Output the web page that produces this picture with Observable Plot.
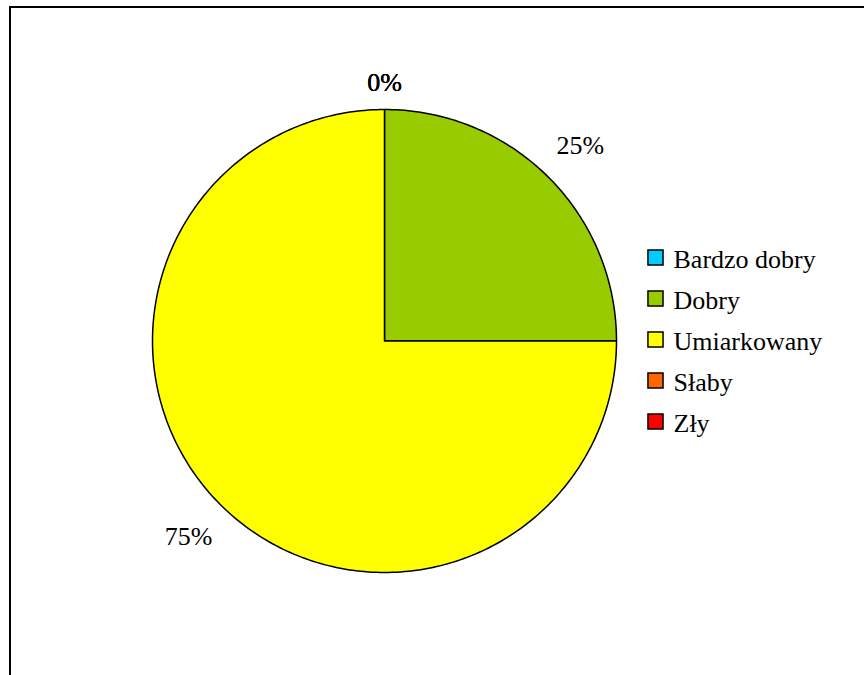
<!DOCTYPE html>
<html>
<head>
<meta charset="utf-8">
<script src="https://cdn.jsdelivr.net/npm/d3@7"></script>
<script src="https://cdn.jsdelivr.net/npm/@observablehq/plot@0.6"></script>
<style>
  html, body { margin: 0; padding: 0; background: #fff; }
  #wrap { position: relative; width: 864px; height: 675px; overflow: hidden; }
  #frame { position: absolute; left: 9px; top: 6px; width: 900px; height: 700px;
           border-left: 2px solid #000; border-top: 2px solid #000; box-sizing: border-box; pointer-events: none; }
  #chart { position: absolute; left: 0; top: 0; }
  #legend { position: absolute; left: 646px; top: 236px; }
</style>
</head>
<body>
<div id="wrap">
  <div id="chart"></div>
  <div id="legend"></div>
  <div id="frame"></div>
</div>
<script>
const categories = ["Bardzo dobry", "Dobry", "Umiarkowany", "Słaby", "Zły"];
const values = [0, 25, 75, 0, 0];
const labels = ["0%", "25%", "75%", "0%", "0%"];
const colors = ["#00CCFF", "#99CC00", "#FFFF00", "#FF6600", "#FF0000"];

const data = categories.map((c, i) => ({category: c, value: values[i], label: labels[i]}));
const arcs = d3.pie().sort(null).value(d => d.value).startAngle(0).endAngle(2 * Math.PI)(data);

// polygon points for each slice (angles clockwise from 12 o'clock)
const pts = [];
for (const a of arcs) {
  if (a.endAngle - a.startAngle <= 0) continue;
  const n = Math.max(2, Math.ceil((a.endAngle - a.startAngle) / (Math.PI / 180)));
  pts.push({category: a.data.category, x: 0, y: 0});
  for (let k = 0; k <= n; k++) {
    const t = a.startAngle + (a.endAngle - a.startAngle) * k / n;
    pts.push({category: a.data.category, x: Math.sin(t), y: Math.cos(t)});
  }
}

// label positions outside the pie
const lab = arcs.map(a => {
  const m = (a.startAngle + a.endAngle) / 2;
  const r = 1.07 + 0.13 * Math.abs(Math.sin(m)) + 0.045 * Math.abs(Math.cos(m));
  return {label: a.data.label, x: r * Math.sin(m), y: r * Math.cos(m)};
});

const FONT = "Liberation Serif";

const chart = Plot.plot({
  width: 864,
  height: 675,
  margin: 0,
  style: {fontFamily: FONT, background: "transparent"},
  x: {domain: [-1, 1], range: [152, 616], axis: null},
  y: {domain: [-1, 1], range: [572, 109], axis: null},
  color: {domain: categories, range: colors},
  marks: [
    Plot.line(pts, {x: "x", y: "y", z: "category", fill: "category", stroke: "#000", strokeWidth: 1.5, curve: "linear-closed", strokeLinejoin: "round"}),
    Plot.text(lab, {x: "x", y: "y", text: "label", fontSize: 26, fontFamily: FONT, fill: "#000", textAnchor: "middle", lineAnchor: "middle"})
  ]
});
document.getElementById("chart").appendChild(chart);

// legend as a small separate Plot
const legend = Plot.plot({
  width: 215,
  height: 205,
  margin: 0,
  style: {fontFamily: FONT, background: "transparent"},
  x: {domain: [0, 1], range: [9, 200], axis: null},
  y: {type: "point", domain: categories, range: [21, 185], padding: 0, axis: null},
  color: {domain: categories, range: colors},
  marks: [
    Plot.dot(categories, {x: () => 0, y: d => d, symbol: "square", r: 8.5, fill: d => d, stroke: "#000", strokeWidth: 1.5}),
    Plot.text(categories, {x: () => 0, y: d => d, text: d => d, dx: 18, dy: 2, textAnchor: "start", lineAnchor: "middle", fontSize: 26, fontFamily: FONT, fill: "#000"})
  ]
});
document.getElementById("legend").appendChild(legend);
</script>
</body>
</html>
